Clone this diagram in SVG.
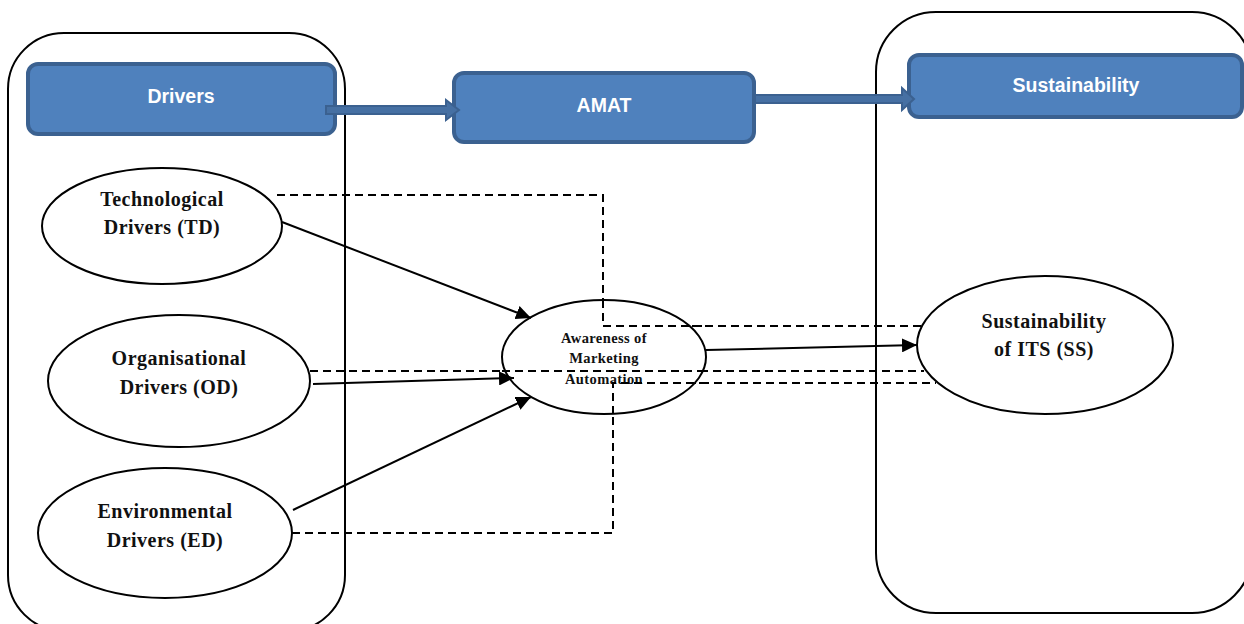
<svg xmlns="http://www.w3.org/2000/svg" width="1244" height="624" viewBox="0 0 1244 624">
  <style>
    .frame { fill: none; stroke: #000; stroke-width: 2; }
    .box { fill: #4F81BD; stroke: #3B6190; stroke-width: 4; }
    .boxtxt { fill: #fff; font-family: "Liberation Sans", Arial, sans-serif; font-weight: bold; font-size: 19.5px; text-anchor: middle; }
    .blk { fill: #4670A3; stroke: #3B6190; stroke-width: 2; stroke-linejoin: miter; }
    .ell { fill: #fff; stroke: #000; stroke-width: 2; }
    .etxt { fill: #111; font-family: "Liberation Serif", "Times New Roman", serif; font-weight: bold; font-size: 20px; letter-spacing: 0.5px; text-anchor: middle; }
    .stxt { fill: #111; font-family: "Liberation Serif", "Times New Roman", serif; font-weight: bold; font-size: 14.5px; letter-spacing: 0.4px; text-anchor: middle; }
    .solid { fill: none; stroke: #000; stroke-width: 2; }
    .dash { fill: none; stroke: #000; stroke-width: 2; stroke-dasharray: 8 5; }
  </style>
  <defs>
    <marker id="head" markerUnits="userSpaceOnUse" markerWidth="16" markerHeight="14" refX="15" refY="7" orient="auto">
      <path d="M0,0 L15,7 L0,14 Z" fill="#000"/>
    </marker>
  </defs>

  <rect width="1244" height="624" fill="#fff"/>

  <!-- group containers -->
  <g id="containers">
    <rect class="frame" x="8" y="33" width="337" height="598" rx="56"/>
    <rect class="frame" x="876" y="12" width="376" height="601" rx="60"/>
  </g>

  <!-- dashed links drawn below the ellipses -->
  <g id="dashed-links">
    <polyline class="dash" points="277,195 603,195 603,326 922,326"/>
    <polyline class="dash" points="310,371 924,371"/>
    <polyline class="dash" points="292,533 613,533 613,383 936,383"/>
  </g>

  <!-- header boxes -->
  <g id="box-drivers">
    <rect class="box" x="28" y="64" width="307" height="70" rx="10"/>
    <text class="boxtxt" x="181" y="103">Drivers</text>
  </g>
  <g id="box-amat">
    <rect class="box" x="454" y="73" width="300" height="69" rx="10"/>
    <text class="boxtxt" x="604" y="112">AMAT</text>
  </g>
  <g id="box-sustainability">
    <rect class="box" x="909" y="55" width="333" height="62" rx="10"/>
    <text class="boxtxt" x="1076" y="92">Sustainability</text>
  </g>

  <!-- block arrows between header boxes -->
  <g id="block-arrows">
    <path class="blk" d="M326,106 L446,106 L446,100 L459,110 L446,120 L446,114 L326,114 Z"/>
    <path class="blk" d="M755,95 L902,95 L902,88 L914,99 L902,110 L902,103 L755,103 Z"/>
  </g>

  <!-- construct ellipses -->
  <g id="node-td">
    <ellipse class="ell" cx="162" cy="226" rx="120" ry="58"/>
    <text class="etxt" x="162" y="206">Technological</text>
    <text class="etxt" x="162" y="234">Drivers (TD)</text>
  </g>
  <g id="node-od">
    <ellipse class="ell" cx="179" cy="381" rx="131" ry="66"/>
    <text class="etxt" x="179" y="365">Organisational</text>
    <text class="etxt" x="179" y="394">Drivers (OD)</text>
  </g>
  <g id="node-ed">
    <ellipse class="ell" cx="165" cy="533" rx="127" ry="65"/>
    <text class="etxt" x="165" y="518">Environmental</text>
    <text class="etxt" x="165" y="547">Drivers (ED)</text>
  </g>
  <g id="node-ama">
    <ellipse class="ell" cx="604" cy="357" rx="102" ry="57"/>
    <text class="stxt" x="604" y="343">Awareness of</text>
    <text class="stxt" x="604" y="363">Marketing</text>
    <text class="stxt" x="604" y="384">Automation</text>
  </g>
  <g id="node-ss">
    <ellipse class="ell" cx="1045" cy="345" rx="128" ry="69"/>
    <text class="etxt" x="1044" y="328">Sustainability</text>
    <text class="etxt" x="1044" y="356">of ITS (SS)</text>
  </g>

  <!-- dashed segments that pass over the central ellipse -->
  <g id="dashed-over">
    <polyline class="dash" points="603,300 603,326 706,326"/>
    <polyline class="dash" points="502,371 706,371"/>
    <polyline class="dash" points="613,414 613,383 706,383"/>
  </g>

  <!-- causal paths -->
  <g id="connectors">
    <line class="solid" x1="282" y1="222" x2="531" y2="318" marker-end="url(#head)"/>
    <line class="solid" x1="313" y1="384" x2="514" y2="378" marker-end="url(#head)"/>
    <line class="solid" x1="293" y1="510" x2="531" y2="397" marker-end="url(#head)"/>
    <line class="solid" x1="706" y1="350" x2="917" y2="345" marker-end="url(#head)"/>
  </g>
</svg>
